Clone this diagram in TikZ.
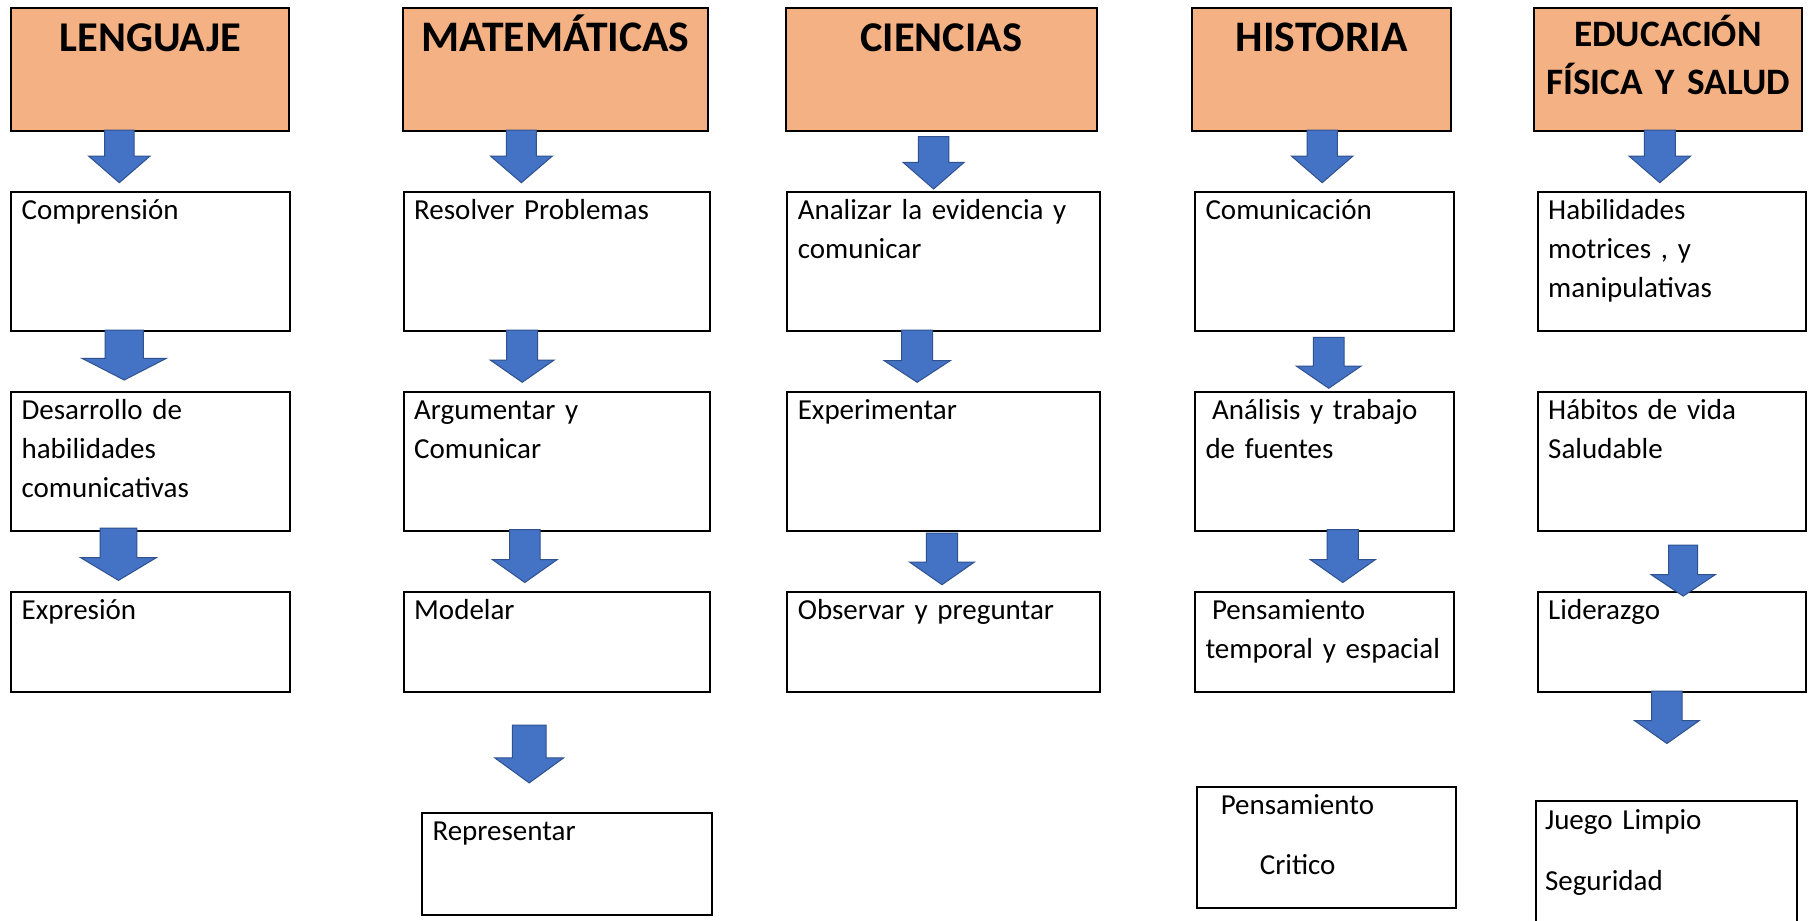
\documentclass[tikz,border=0pt]{standalone}
\usepackage{fontspec}
\setmainfont{Carlito}
\definecolor{naranja}{HTML}{F4B183}
\definecolor{azul}{HTML}{4472C4}
\definecolor{azulborde}{HTML}{2F528F}
\newcommand{\flecha}[6]{%
  \draw[bloque] (#1-#5,#2) -- (#1+#5,#2) -- (#1+#5,#3) -- (#1+#6,#3) -- (#1,#4)
    -- (#1-#6,#3) -- (#1-#5,#3) -- cycle;}

\begin{document}
\begin{tikzpicture}[x=1pt,y=-1pt,
  titulo/.style={draw, line width=2pt, fill=naranja, anchor=north west, inner sep=0pt,
    text width=#1pt, text height=42.7pt, text depth=80pt, align=center,
    font=\fontsize{42.4}{48.3}\selectfont\bfseries},
  caja/.style 2 args={draw, line width=2pt, fill=white, anchor=north west,
    inner xsep=10.5pt, inner ysep=0pt, text width=#1pt, text height=28pt,
    text depth=#2pt, align=left, font=\fontsize{29}{39}\selectfont},
  bloque/.style={fill=azul, draw=azulborde, line width=1pt}]
  \useasboundingbox (0,0) rectangle (1813,921);
  \clip (0,0) rectangle (1813,921);
  \fill[white] (0,0) rectangle (1813,921);

  \node[titulo=278.2] at (10.1,7.3) (len) {LENGUAJE};
  \node[titulo=305.3, font=\fontsize{43.6}{48.3}\selectfont\bfseries] at (401.7,7.3) (mat) {MATEMÁTICAS};
  \node[titulo=311.7] at (784.5,7.3) (cie) {CIENCIAS};
  \node[titulo=258.7, font=\fontsize{43.6}{48.3}\selectfont\bfseries] at (1191.3,7.3) (his) {HISTORIA};
  \node[titulo=268.6, text height=37.7pt, text depth=85pt,
    font=\fontsize{37.3}{48.3}\selectfont\bfseries] at (1532.7,7.3) (edf) {EDUCACIÓN\\FÍSICA Y SALUD};

  \node[caja={258.2}{111.3}] at (10.1,190.7) (len1) {Comprensión};
  \node[caja={258.2}{110.8}] at (10.1,390.8) (len2) {Desarrollo de\\habilidades\\comunicativas};
  \node[caja={258.2}{72.2}] at (10.1,590.8) (len3) {Expresión};

  \node[caja={285.7}{111.3}] at (402.7,190.7) (mat1) {Resolver Problemas};
  \node[caja={285.7}{110.8}] at (402.7,390.8) (mat2) {Argumentar y\\Comunicar};
  \node[caja={285.7}{72.2}] at (402.7,590.8) (mat3) {Modelar};
  \node[caja={269.2}{73.9}] at (421,811.9) (mat4) {Representar};

  \node[caja={291.2}{111.3}] at (786.3,190.7) (cie1) {Analizar la evidencia y\\comunicar};
  \node[caja={291.2}{110.8}] at (786.3,390.8) (cie2) {Experimentar};
  \node[caja={291.2}{72.2}] at (786.3,590.8) (cie3) {Observar y preguntar};

  \node[caja={238.3}{111.3}] at (1194,190.7) (his1) {Comunicación};
  \node[caja={238.3}{110.8}] at (1194,390.8) (his2) {\hspace*{6.5pt}Análisis y trabajo\\de fuentes};
  \node[caja={238.3}{72.2}] at (1194,590.8) (his3) {\hspace*{6.5pt}Pensamiento\\temporal y espacial};
  \node[caja={237.7}{93.6}, font=\fontsize{29}{60}\selectfont] at (1196.3,785.8) (his4) {\hspace*{13pt}Pensamiento\\\hspace*{52pt}Critico};

  \node[caja={247.6}{111.3}] at (1536.7,190.7) (edf1) {Habilidades\\motrices , y\\manipulativas};
  \node[caja={247.6}{110.8}] at (1536.7,390.8) (edf2) {Hábitos de vida\\Saludable};
  \node[caja={247.6}{72.2}] at (1536.7,590.8) (edf3) {Liderazgo};
  \node[caja={242.7}{112}, inner xsep=9pt, font=\fontsize{29}{61}\selectfont] at (1535,800) (edf4) {Juego Limpio\\Seguridad};

  \flecha{119.3}{130}{156}{182.7}{14.7}{30.8}
  \flecha{124.2}{330}{358.3}{380}{19.2}{42.3}
  \flecha{118.5}{528.2}{557.5}{580.4}{18.4}{38.1}
  \flecha{521.4}{130}{156}{182.7}{15}{31}
  \flecha{522.2}{330}{360}{382.3}{15.5}{32}
  \flecha{524.8}{529.6}{559.6}{582.5}{15.2}{32.4}
  \flecha{529.2}{725}{757.9}{782.9}{16.8}{34.4}
  \flecha{933.6}{136.7}{162.3}{189}{15.2}{30.6}
  \flecha{917.2}{330}{360.7}{382.3}{15.5}{33}
  \flecha{942}{533.2}{562.1}{584.7}{15.6}{32.4}
  \flecha{1322.2}{130}{156}{182.7}{15.2}{30.8}
  \flecha{1328.7}{337.3}{366}{388.3}{15.4}{32.5}
  \flecha{1342.8}{529.6}{559.6}{582.5}{15.6}{32.6}
  \flecha{1659.8}{130}{156}{182.7}{15.5}{30.9}
  \flecha{1683.2}{545}{574.7}{596.1}{14.5}{32}
  \flecha{1666.9}{691}{720.6}{743.5}{15.2}{32.4}
\end{tikzpicture}
\end{document}
